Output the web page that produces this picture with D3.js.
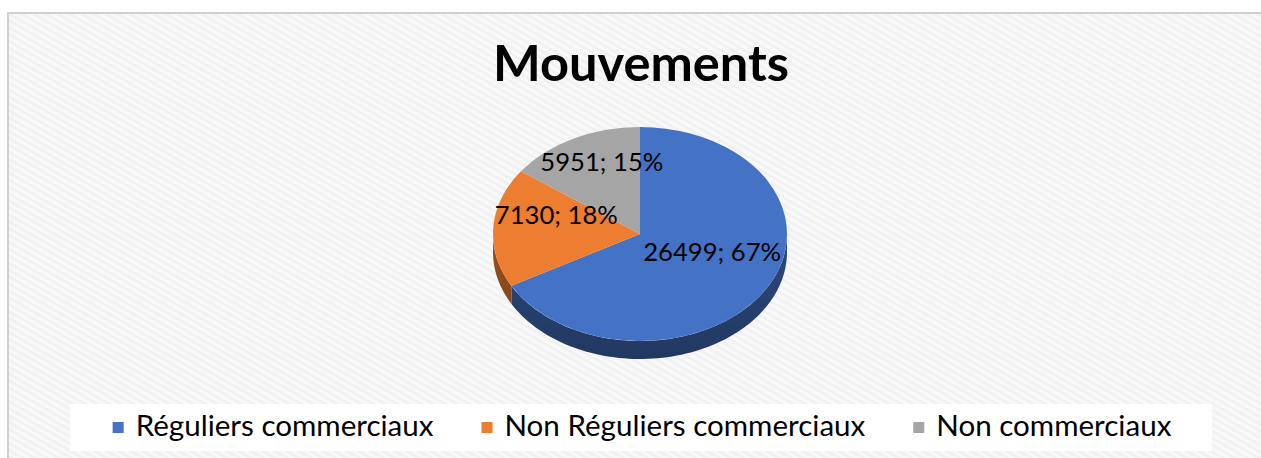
<!DOCTYPE html>
<html><head><meta charset="utf-8">
<script src="https://cdn.jsdelivr.net/npm/d3@7/dist/d3.min.js"></script>
<style>body{margin:0;background:#fff;overflow:hidden}</style>
</head><body>
<svg id="c" width="1261" height="458"></svg>
<script>
const title = "Mouvements";
const categories = ["Réguliers commerciaux", "Non Réguliers commerciaux", "Non commerciaux"];
const values = [26499, 7130, 5951];
const colors = ["#4472C4", "#ED7D31", "#A5A5A5"];

const W = 1261, H = 458;
const FONT = "Lato, 'Open Sans', 'DejaVu Sans', sans-serif";
const svg = d3.select("#c");
const defs = svg.append("defs");

// background pattern
const pat = defs.append("pattern").attr("id", "bgp").attr("patternUnits", "userSpaceOnUse")
  .attr("width", 6).attr("height", 6).attr("patternTransform", "rotate(30)");
pat.append("rect").attr("width", 6).attr("height", 6).attr("fill", "#f8f8f8");
pat.append("rect").attr("width", 6).attr("height", 2.5).attr("fill", "#f0f0f0");

svg.append("rect").attr("x", 8).attr("y", 13).attr("width", W + 20).attr("height", H + 20)
  .attr("fill", "url(#bgp)").attr("stroke", "#d0d0d0").attr("stroke-width", 2);

function fit(sel, target) {
  sel.attr("font-size", 100);
  const w = sel.node().getComputedTextLength();
  const fs = 100 * target / w;
  sel.attr("font-size", fs);
  return fs;
}

// title
const t = svg.append("text").attr("x", 641).attr("y", 81).attr("text-anchor", "middle")
  .attr("font-family", FONT).attr("font-weight", "bold").attr("fill", "#000").text(title);
fit(t, 296);

// pie geometry
const cx = 640, cy = 234, rx = 147, ry = 107, depth = 18;
const arcs = d3.pie().sort(null).value(d => d)(values);
const total = d3.sum(values);
const pct = d3.format(".0%");
const P = (a, dz = 0) => [cx + rx * Math.sin(a), cy - ry * Math.cos(a) + dz];

// side walls
arcs.forEach((d, i) => {
  const s0 = Math.max(d.startAngle, Math.PI / 2), s1 = Math.min(d.endAngle, 3 * Math.PI / 2);
  if (s1 <= s0) return;
  const g = defs.append("linearGradient").attr("id", "side" + i).attr("gradientUnits", "userSpaceOnUse")
    .attr("x1", 0).attr("x2", 0).attr("y1", cy).attr("y2", cy + ry + depth);
  const base = d3.color(colors[i]);
  g.append("stop").attr("offset", 0).attr("stop-color", base.darker(1.2));
  g.append("stop").attr("offset", 1).attr("stop-color", base.darker(2.0));
  const n = 80, pts = [];
  for (let k = 0; k <= n; k++) pts.push(P(s0 + (s1 - s0) * k / n));
  for (let k = n; k >= 0; k--) pts.push(P(s0 + (s1 - s0) * k / n, depth));
  svg.append("path").attr("d", "M" + pts.map(p => p.join(",")).join("L") + "Z")
    .attr("fill", `url(#side${i})`);
});

// top faces
arcs.forEach((d, i) => {
  const a = P(d.startAngle), b = P(d.endAngle);
  const large = (d.endAngle - d.startAngle) > Math.PI ? 1 : 0;
  svg.append("path")
    .attr("d", `M${cx},${cy}L${a[0]},${a[1]}A${rx},${ry} 0 ${large} 1 ${b[0]},${b[1]}Z`)
    .attr("fill", colors[i]);
});

// labels
const labelFs = (() => {
  const tmp = svg.append("text").attr("font-family", FONT).text(values[0] + "; " + pct(values[0] / total));
  const fs = fit(tmp, 138); tmp.remove(); return fs;
})();
arcs.forEach((d, i) => {
  const m = (d.startAngle + d.endAngle) / 2;
  const x = cx + 0.57 * rx * Math.sin(m), y = cy - 0.6 * ry * Math.cos(m) - 15;
  svg.append("text").attr("x", x).attr("y", y).attr("dy", "0.35em").attr("text-anchor", "middle")
    .attr("font-family", FONT).attr("font-size", labelFs).attr("fill", "#000")
    .text(values[i] + "; " + pct(values[i] / total));
});

// legend
svg.append("rect").attr("x", 70).attr("y", 404).attr("width", 1142).attr("height", 47).attr("fill", "#fff");
const lg = svg.append("g");
const tmp = lg.append("text").attr("font-family", FONT).text(categories[0]);
const legFs = fit(tmp, 298); tmp.remove();
let x = 0;
categories.forEach((c, i) => {
  const it = lg.append("g").attr("transform", `translate(${x},0)`);
  it.append("rect").attr("x", 0).attr("y", 422).attr("width", 11).attr("height", 11).attr("fill", colors[i]);
  const tx = it.append("text").attr("x", 23).attr("y", 436).attr("font-family", FONT)
    .attr("font-size", legFs).attr("fill", "#000").text(c);
  const w = tx.node().getComputedTextLength();
  x += 23 + w + 48;
});
const totalW = x - 48;
lg.attr("transform", `translate(${642 - totalW / 2},0)`);
</script>
</body></html>
